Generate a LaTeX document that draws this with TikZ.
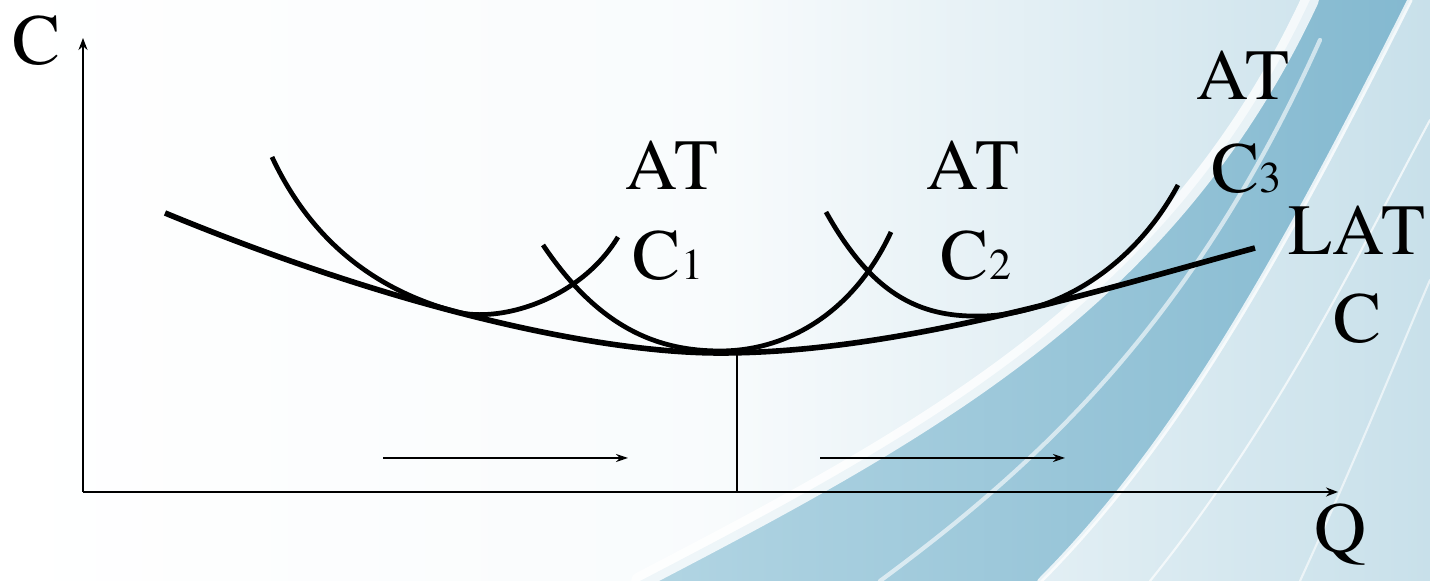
\documentclass[tikz,border=0pt]{standalone}
\usepackage{fontspec}
\setmainfont{TeX Gyre Termes}
\usepackage{xcolor}
\usetikzlibrary{arrows.meta}
\definecolor{skyline}{RGB}{200,224,234}
\definecolor{bandblue}{RGB}{132,185,208}
\definecolor{bandlight}{RGB}{178,213,227}
\tikzset{
    curve/.style={line width=1.35pt,black},
    envelope/.style={line width=1.6pt,black},
    axis/.style={line width=0.7pt,-{Stealth[length=1.2mm,width=0.9mm]}},
    flow/.style={line width=0.7pt,-{Stealth[length=1.2mm,width=0.8mm]}},
    lbl/.style={anchor=base,inner sep=0pt,font=\rmfamily\fontsize{20.5}{22}\selectfont},
    streak/.style={white,line cap=round},
}
\newcommand{\cnum}[1]{{\fontsize{12.5}{13}\selectfont #1}}

\begin{document}
\begin{tikzpicture}[x=0.1mm,y=-0.1mm]
\useasboundingbox (0,0) rectangle (1430,581);
% background
\shade[left color=white,right color=skyline,middle color=white!88!skyline] (0,0) rectangle (1430,581);
\shade[left color=bandlight,right color=bandblue] (640,581) .. controls (930,430) and (1170,300) .. (1310,0)
    -- (1410,0) .. controls (1270,280) and (1170,450) .. (1040,581) -- cycle;
\draw[streak,line width=5pt,opacity=0.8] (640,581) .. controls (930,430) and (1170,300) .. (1310,0);
\draw[streak,line width=1.2pt,opacity=0.6] (880,581) .. controls (1030,470) and (1190,330) .. (1320,40);
\draw[streak,line width=1.5pt,opacity=0.8] (1040,581) .. controls (1170,450) and (1270,280) .. (1410,0);
\draw[streak,line width=0.6pt,opacity=0.7] (1150,581) .. controls (1280,420) and (1360,250) .. (1430,120);
\draw[streak,line width=0.6pt,opacity=0.6] (1300,581) .. controls (1360,450) and (1400,350) .. (1430,280);

% axes
\coordinate (O) at (83,492);
\coordinate (ctop) at (83,38);
\coordinate (qend) at (1338,492);
\draw[axis] (O) -- (ctop);
\draw[axis] (O) -- (qend);
\node[lbl] (cax) at (37,65) {C};
\node[lbl] (qax) at (1340,553) {Q};

% LATC
\draw[envelope] (165,213) .. controls (400,310) and (600,353) .. (720,353)
    .. controls (900,353) and (1100,290) .. (1255,248);
% ATC1, ATC2, ATC3
\draw[curve] (272,157) .. controls (320,260) and (400,297) .. (457,312)
    .. controls (500,323) and (580,300) .. (618,237);
\draw[curve] (543,245) .. controls (600,330) and (660,351) .. (720,351)
    .. controls (790,351) and (855,310) .. (891,232);
\draw[curve] (826,212) .. controls (875,300) and (925,318) .. (985,316)
    .. controls (1060,313) and (1135,265) .. (1178,185);

% minimum point
\coordinate (qmin) at (737,353);
\coordinate (qfoot) at (737,492);
\draw[line width=0.6pt] (qmin) -- (qfoot);

% arrows
\coordinate (a1) at (383,458);
\coordinate (a2) at (628,458);
\coordinate (b1) at (820,458);
\coordinate (b2) at (1065,458);
\draw[flow] (a1) -- (a2);
\draw[flow] (b1) -- (b2);

% labels
\node[lbl] (at1) at (672,190) {AT};
\node[lbl] (c1) at (668,280) {C\cnum{1}};
\node[lbl] (at2) at (973,190) {AT};
\node[lbl] (c2) at (976,280) {C\cnum{2}};
\node[lbl] (at3) at (1243,100) {AT};
\node[lbl] (c3) at (1246,193) {C\cnum{3}};
\node[lbl] (lat) at (1357,255) {LAT};
\node[lbl] (lc) at (1358,343) {C};
\end{tikzpicture}
\end{document}
